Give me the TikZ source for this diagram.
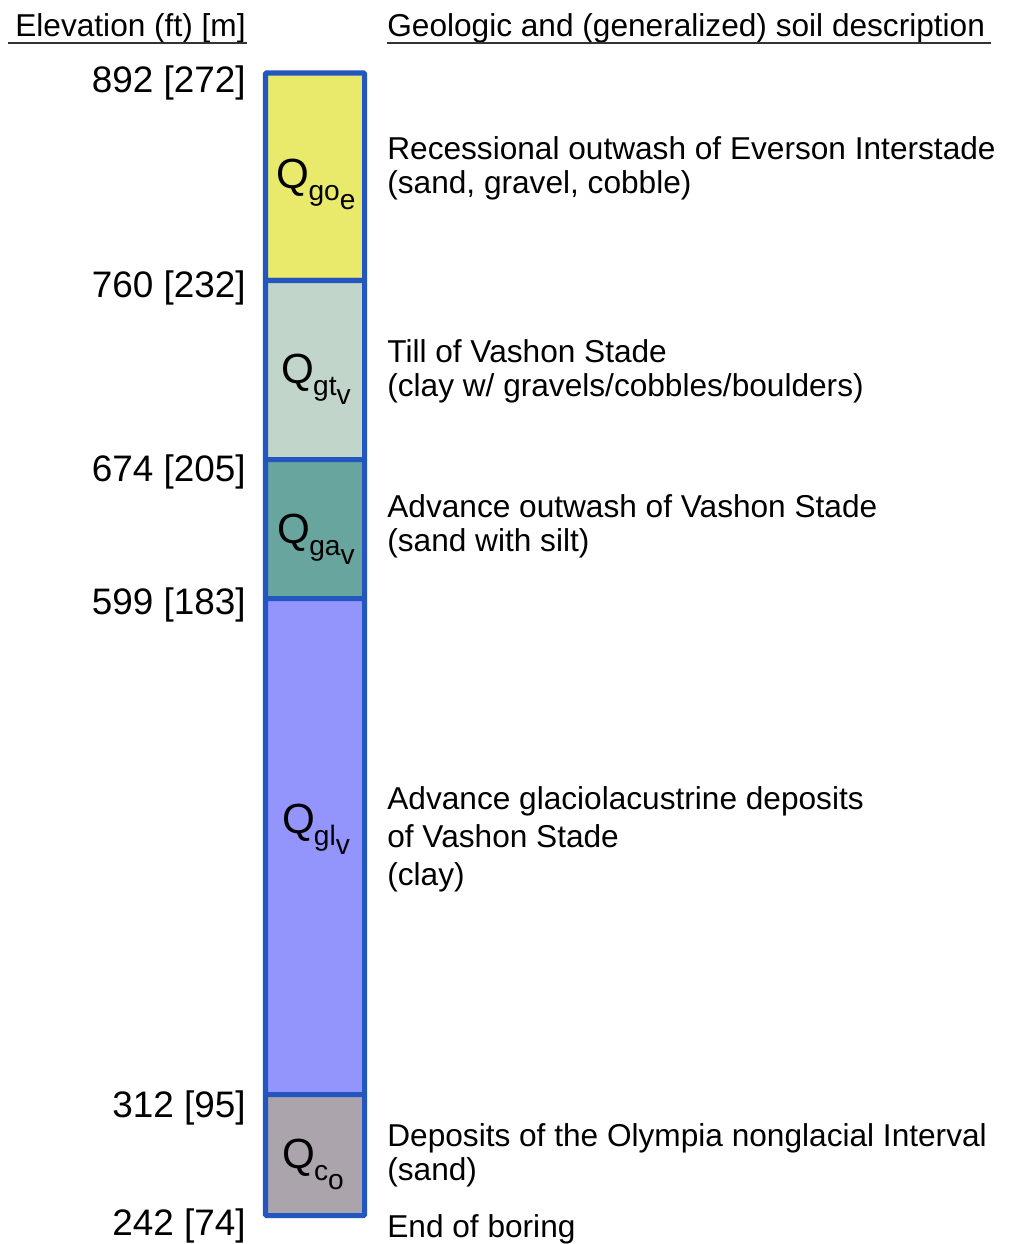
\documentclass[tikz,border=0pt]{standalone}
\usepackage{fontspec}
\setmainfont{Liberation Sans}
\usetikzlibrary{calc}
\definecolor{boreblue}{HTML}{2356BF}
\definecolor{qgoe}{HTML}{E9E96B}
\definecolor{qgtv}{HTML}{C2D5CA}
\definecolor{qgav}{HTML}{67A59E}
\definecolor{qglv}{HTML}{9395FD}
\definecolor{qco}{HTML}{ACA4AC}
\def\geounit(#1)(#2){Q\kern-0.5pt\raisebox{-0.3em}{\fontsize{16}{16}\selectfont #1\raisebox{-0.3em}{#2}}}
\tikzset{
  layer/.style={draw=boreblue, line width=2.85pt, rounded corners=0.5pt},
  elev/.style={anchor=base east, inner sep=0pt, font=\fontsize{21}{21}\selectfont},
  head/.style={anchor=base west, inner sep=0pt, font=\fontsize{18}{18}\selectfont},
  desc/.style={anchor=base west, inner sep=0pt, align=left, font=\fontsize{18}{19}\selectfont},
  unitlabel/.style={inner sep=0pt, font=\fontsize{24}{24}\selectfont},
  headrule/.style={draw=black!80, line width=1.4pt}
}
\begin{document}
\begin{tikzpicture}[x=0.02cm, y=-0.02cm]
		%%%%% START %%%%%
		\useasboundingbox (0, 0) rectangle (1008, 1244);
		
		% headers
		\node[head] (hElev) at (15, 36) {Elevation (ft) [m]};
		\node[head] (hDesc) at (387, 36) {Geologic and (generalized) soil description};
		\draw[headrule] (8, 43) -- (247, 43);
		\draw[headrule] (387, 43) -- (991, 43);
		
		% boring column
		\draw[layer, fill=qgoe] (265.5, 73) rectangle (364.5, 280.5);
		\draw[layer, fill=qgtv] (265.5, 280.5) rectangle (364.5, 459.5);
		\draw[layer, fill=qgav] (265.5, 459.5) rectangle (364.5, 598.5);
		\draw[layer, fill=qglv] (265.5, 598.5) rectangle (364.5, 1094.5);
		\draw[layer, fill=qco] (265.5, 1094.5) rectangle (364.5, 1215.5);
		
		\node[unitlabel] (uGoe) at (316, 184) {\geounit(go)(e)};
		\node[unitlabel] (uGtv) at (316, 379) {\geounit(gt)(v)};
		\node[unitlabel] (uGav) at (316, 539) {\geounit(ga)(v)};
		\node[unitlabel] (uGlv) at (316, 829) {\geounit(gl)(v)};
		\node[unitlabel] (uCo) at (313, 1164) {\geounit(c)(o)};
		
		% elevations
		\node[elev] (e892) at (246, 92) {892 [272]};
		\node[elev] (e760) at (246, 297) {760 [232]};
		\node[elev] (e674) at (246, 481) {674 [205]};
		\node[elev] (e599) at (246, 614) {599 [183]};
		\node[elev] (e312) at (246, 1117) {312 [95]};
		\node[elev] (e242) at (246, 1235) {242 [74]};
		
		% descriptions (placed at the baseline of their last line)
		\node[desc] (dGoe) at (387, 193) {Recessional outwash of Everson Interstade\\(sand, gravel, cobble)};
		\node[desc] (dGtv) at (387, 396) {Till of Vashon Stade\\(clay w/ gravels/cobbles/boulders)};
		\node[desc] (dGav) at (387, 551) {Advance outwash of Vashon Stade\\(sand with silt)};
		\node[desc, font=\fontsize{18}{21.5}\selectfont] (dGlv) at (387, 885) {Advance glaciolacustrine deposits\\of Vashon Stade\\(clay)};
		\node[desc] (dCo) at (387, 1180) {Deposits of the Olympia nonglacial Interval\\(sand)};
		\node[desc] (dEnd) at (387, 1237) {End of boring};
		
		%%%%% END %%%%%
	\end{tikzpicture}
\end{document}
